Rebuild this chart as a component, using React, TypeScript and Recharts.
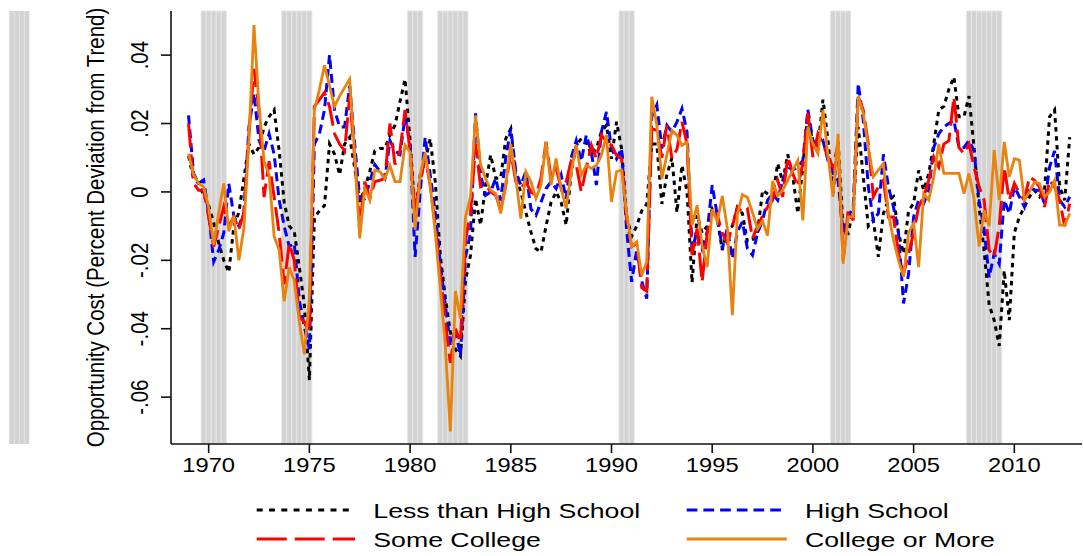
import React from "react";
import { LineChart, Line, XAxis, YAxis, ReferenceArea } from "recharts";

// Quarterly observations, 1969Q1 to 2012Q4, in thousandths (x 0.001)
const firstYear = 1969;

const lessThanHS = [
  10.5, 4, 2.5, -1,
  -4, -9, -15, -20,
  -23.5, -10, -6, 4,
  14, 11, 13, 19,
  22, 24, 12, -3,
  -10, -11.5, -22, -33,
  -55, -7.5, -5.5, -4,
  14, 11, 5, 14,
  16, 7, -3, 1,
  6, 12, 12.7, 12.7,
  16.6, 19.5, 26.4, 33,
  15, -6.8, 5, 9,
  15.6, 3, -18.5, -31,
  -41, -46, -48, -26,
  -18.5, -2, -9.7, 2,
  10.8, 4, 4, 15.6,
  18.5, 4, 0, -6,
  -11.7, -16.6, -17.6, -10,
  -3, 0, -3, -9.7,
  5.9, 13.7, 15.6, 14.6,
  10.8, 12.7, 17.6, 19.5,
  9.7, 20.5, 12.7, -7,
  -13, -10, -5.5, -3.5,
  14, 14, -3.5, 5,
  10, -6, 7.8, 0,
  -26.5, -6.8, -12, -10,
  -5, -8, -17, -11,
  -10, -4.5, -6.3, -14.6,
  -14, -12, 0.5, -0.5,
  -1.5, 8.3, 3, 11,
  4.5, -6.3, 7.5, 23,
  14, 13, 27, 15,
  -0.5, 15, -11, -12,
  -5.3, 19, 4.4, -10,
  -8.3, -19, -6.3, -2.4,
  -1.4, -12, -18, -5.4,
  -3.4, 6.3, 0.5, 5.3,
  14, 24, 25, 30,
  33.6, 22, 22, 28,
  13, -4.4, -17, -33,
  -37.5, -45, -23, -37.5,
  -12, -7.3, -4.4, -1.4,
  0.5, -1.4, 0.5, 22,
  24, 1.5, -2.4, 16,
];

const highSchool = [
  22.4, 5.4, 2.5, 3.5,
  -6.3, -20.4, -17, -12,
  2.4, -7, -10, -6,
  19, 28.8, 15, 12,
  17, 11, -2.4, -10,
  -16, -15, -31.6, -39.4,
  -46, 14, 17, 24,
  40, 24, 19, 19,
  31, 14, -2, -2,
  3, 8, 6, 4,
  15, 12, 11, 22,
  14, -19, 0, 16,
  5, -6, -21, -33,
  -45, -40, -48, -19,
  -12, 23, 5, -1,
  0, 4, -2.5, 10,
  18.5, 6, 2, 6,
  -5, -6.8, -3, 1,
  3, 1, 5, -2,
  10, 15, 9, 16.6,
  11.7, 2, 17.6, 23.4,
  12.7, 9.7, 12.7, -11,
  -26.3, -17, -26, -31.2,
  22, 25.4, 12.7, 19.5,
  17.5, 20.5, 24.4, 17.5,
  -16.6, -11.7, -16.6, -11.7,
  2, -6.8, -16.6, -10.7,
  -19.5, -11.7, -8.7, -16.6,
  -18.5, -12, -8.3, -2.4,
  -0.5, -2.4, 3.4, 7.3,
  6.4, 7.3, 9.2, 24,
  15, 14, 15, 9.2,
  5.4, 3.4, -12, -7.3,
  -4.4, 31.7, 21, 1.5,
  -8.3, -6.3, 11, 1.5,
  -4.4, -12, -32.6, -24,
  -7.3, -2.4, -3.4, 0.5,
  13, 17, 19, 20,
  21, 13, 13, 15,
  12, -2.4, -11, -25,
  -18, -21, -2.4, -6.3,
  1.5, -1.4, -4.4, 1.5,
  0.5, 0.5, -3.4, 7.3,
  12, -2.4, -4.4, -1.4,
];

const someCollege = [
  20, 2.5, 0.5, 0.5,
  -7.3, -16, -10, -4.4,
  -10, -7.3, -11, -6,
  17, 36, 24, -1.5,
  9, -1.5, -12, -27,
  -15, -20, -36.5, -38,
  -41, 25, 27, 29,
  25, 17, 14, 12,
  28, 10, -10, 3,
  -2, 3, 3.4, 4,
  20, 8, 12, 24,
  12, -6, 3, 10,
  2, -10, -24, -38,
  -50, -40, -44, -14,
  -6.3, 14, 1.5, 2,
  0, -1, -5, 2,
  11.7, 3, 1, 3,
  0, -1, 4, 14.6,
  4, 7, 1, 3,
  9, 8, 0, 7,
  13.7, 9.7, 16.6, 14.6,
  13.7, 10.7, 9.7, -8,
  -16, -15, -28, -29,
  18.5, 18, 10, 19.5,
  9.8, 12.5, 20.5, 14,
  -18.5, -10.7, -26.3, -12,
  -5.8, -6.8, -12, -15,
  -10, -4.5, -6, -5,
  -13.6, -10, -7, -4.4,
  -2.4, 3.4, -1.4, 10.2,
  5.4, 1.5, 8.3, 23,
  10.2, 17, 14, 10.2,
  7.3, 14, -20, -5.3,
  -8.3, 27.8, 24, 14,
  -1.4, 1.5, 3.4, -7.3,
  -7.3, -18, -24, -18,
  -12, -4.4, -1.4, 3.4,
  10.2, 7.3, 14, 15,
  27.8, 13, 11.2, 14,
  7.3, 1.5, -2.4, -17,
  -19, -10, 7.3, -2.4,
  2.5, -0.5, -2.4, 4.4,
  3.4, 1.5, -4.4, 3.4,
  1.5, -2.4, -10, -3.4,
];

const collegePlus = [
  11.2, 5, 2.5, 1.5,
  -4.5, -15.5, -6, 2.5,
  -11.5, -7, -20, -10.5,
  15.5, 48.8, 25, 9,
  5, -13, -17, -32,
  -22, -26, -38, -47.5,
  -31, 24, 30, 37,
  31, 25, 28, 30.5,
  33, 11, -13.6, 1,
  -2.4, 6.4, 5.9, 3.9,
  7.8, 3, 3, 13.7,
  11.7, -11, 5, 11.5,
  2, -12, -28, -45,
  -70, -29, -37, -7.3,
  -1.4, 22.4, 8, 3.9,
  0.5, -0.5, -6.3, 2,
  14, 3.9, -7.8, 5.9,
  3, -1.9, 2, 14.6,
  2, 9.8, 1, -4.8,
  5.9, 13.7, 4.9, 7.8,
  6.9, 7.8, 10.8, 16.6,
  -2.9, 5.9, 6.4, -6,
  -16, -14.6, -24.4, -20.4,
  27.8, 19.5, 3.9, 10.8,
  18, 16.6, 13.6, 14.6,
  -9.7, -3.9, -15.6, -22,
  -5, -8.7, -1.2, -10.5,
  -36, -6.5, -0.8, -1.6,
  -6, -10.8, -8.5, -12.8,
  3.2, -1.2, 0.5, 3.4,
  6.3, 9.2, -8.3, 19,
  14, 11.2, 23.9, 10.5,
  -1.4, 17, -21, -7.3,
  -7.3, 27.8, 23, 13,
  4.4, 6.4, 8.3, -6.3,
  -14, -20, -24.8, -12,
  -9.2, -22, -0.5, -2.4,
  4.4, 14, 5.4, 5.4,
  5.4, 5.4, -0.5, 5.4,
  -2, -16, -5.4, -10,
  12.2, -2.4, 14.6, 4.4,
  9.7, 9.3, -2.4, 0,
  2.9, 2.4, -1.4, 0,
  3.4, -9.7, -9.7, -6.3,
];

// NBER recessions, first and last shaded quarter
const recessions = [
  [1969.75, 1970.75],
  [1973.75, 1975.0],
  [1980.0, 1980.5],
  [1981.5, 1982.75],
  [1990.5, 1991.0],
  [2001.0, 2001.75],
  [2007.75, 2009.25],
];

const xTicks = [1970, 1975, 1980, 1985, 1990, 1995, 2000, 2005, 2010];
const yTicks = [-0.06, -0.04, -0.02, 0, 0.02, 0.04];
const yTickLabels = ["-.06", "-.04", "-.02", "0", ".02", ".04"];

const series = [
  { key: "lessHS", name: "Less than High School", values: lessThanHS, color: "#000000", dash: "4.5 4.5", legendDash: "6 6.3" },
  { key: "hs", name: "High School", values: highSchool, color: "#0000ff", dash: "9 5", legendDash: "10.7 6" },
  { key: "someCol", name: "Some College", values: someCollege, color: "#ff0000", dash: "24 7", legendDash: "30 8" },
  { key: "colPlus", name: "College or More", values: collegePlus, color: "#e8830f", dash: undefined, legendDash: undefined },
];

const data = lessThanHS.map((_, i) => {
  const row: Record<string, number> = { t: firstYear + i * 0.25 };
  series.forEach((s) => {
    row[s.key] = s.values[i] / 1000;
  });
  return row;
});

const recessionQuarters = recessions.flatMap(([a, b]) => {
  const out: number[] = [];
  for (let t = a; t <= b + 1e-9; t += 0.25) out.push(t);
  return out;
});

const font = '"Liberation Sans", Arial, Helvetica, sans-serif';
const W = 1083;
const H = 556;
const plotTop = 11;
const plotBottom = 444;
const plotLeft = 171;

const XTick = (props: any) => {
  const { x, payload } = props;
  return (
    <text
      transform={`translate(${x}, ${plotBottom + 27.5}) scale(1.13, 1)`}
      textAnchor="middle"
      fontSize={21}
      fontFamily={font}
      fill="#000"
    >
      {payload.value}
    </text>
  );
};

const YTick = (props: any) => {
  const { y, payload } = props;
  const idx = yTicks.findIndex((v) => Math.abs(v - payload.value) < 1e-9);
  return (
    <text
      transform={`translate(148.3, ${y}) scale(1.13, 1) rotate(-90)`}
      textAnchor="middle"
      fontSize={20.5}
      fontFamily={font}
      fill="#000"
    >
      {idx >= 0 ? yTickLabels[idx] : payload.value}
    </text>
  );
};

const legendSlots = [
  { x1: 256.7, x2: 355, tx: 373.3, y: 510, ty: 518 },
  { x1: 686.7, x2: 786.7, tx: 805, y: 510, ty: 518 },
  { x1: 256.7, x2: 355, tx: 373.3, y: 539, ty: 546.5 },
  { x1: 686.7, x2: 786.7, tx: 805, y: 539, ty: 546.5 },
];

export default function App() {
  return (
    <div style={{ position: "absolute", left: 0, top: 0, width: W, height: H, background: "#fff" }}>
      <LineChart
        width={W}
        height={H}
        data={data}
        margin={{ top: plotTop, right: 1, bottom: H - plotBottom - 40, left: plotLeft - 60 }}
      >
        {recessionQuarters.map((t) => (
          <ReferenceArea
            key={t}
            x1={t - 0.125}
            x2={t + 0.125}
            fill="#d3d3d3"
            fillOpacity={1}
            stroke="#e6e6e6"
            strokeWidth={1}
            ifOverflow="extendDomain"
          />
        ))}
        <XAxis
          dataKey="t"
          type="number"
          domain={[1968.13, 2013.36]}
          allowDataOverflow
          ticks={xTicks}
          height={40}
          tickSize={9}
          tick={<XTick />}
          axisLine={{ stroke: "#111", strokeWidth: 1.6 }}
          tickLine={{ stroke: "#111", strokeWidth: 1.6 }}
          interval={0}
        />
        <YAxis
          type="number"
          domain={[-0.0737, 0.0529]}
          allowDataOverflow
          ticks={yTicks}
          width={60}
          tickSize={10}
          tick={<YTick />}
          axisLine={{ stroke: "#111", strokeWidth: 1.6 }}
          tickLine={{ stroke: "#111", strokeWidth: 1.6 }}
          interval={0}
        />
        {series.map((s) => (
          <Line
            key={s.key}
            dataKey={s.key}
            name={s.name}
            type="linear"
            stroke={s.color}
            strokeWidth={s.dash ? 3 : 2.8}
            strokeDasharray={s.dash}
            dot={false}
            activeDot={false}
            isAnimationActive={false}
          />
        ))}
      </LineChart>

      <svg
        width={W}
        height={H}
        style={{ position: "absolute", left: 0, top: 0, pointerEvents: "none" }}
      >
        {/* stray shaded strip at far left */}
        <rect x={9.3} y={plotTop} width={20} height={plotBottom - plotTop} fill="#d3d3d3" />
        {[14.3, 19.3, 24.3].map((x) => (
          <line key={x} x1={x} x2={x} y1={plotTop} y2={plotBottom} stroke="#e6e6e6" strokeWidth={1} />
        ))}

        <text
          transform={`translate(103.5, ${(plotTop + plotBottom) / 2}) scale(1.13, 1) rotate(-90)`}
          textAnchor="middle"
          fontSize={20.5}
          fontFamily={font}
          fill="#000"
        >
          Opportunity Cost (Percent Deviation from Trend)
        </text>

        {series.map((s, i) => {
          const slot = legendSlots[i];
          return (
            <g key={s.key}>
              <line
                x1={slot.x1}
                x2={slot.x2}
                y1={slot.y}
                y2={slot.y}
                stroke={s.color}
                strokeWidth={3}
                strokeDasharray={s.legendDash}
              />
              <text
                transform={`translate(${slot.tx}, ${slot.ty}) scale(1.27, 1)`}
                fontSize={21}
                fontFamily={font}
                fill="#000"
              >
                {s.name}
              </text>
            </g>
          );
        })}
      </svg>
    </div>
  );
}
